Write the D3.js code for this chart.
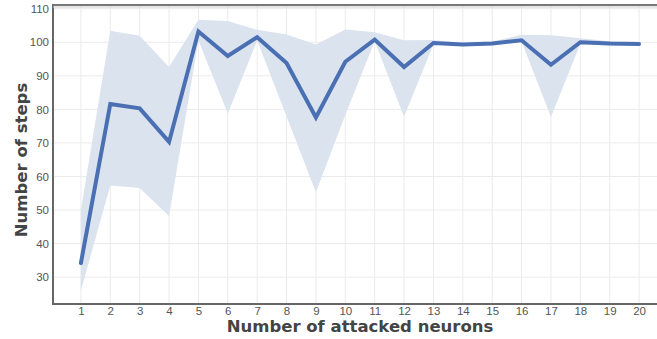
<!DOCTYPE html>
<html>
<head>
<meta charset="utf-8">
<script src="https://cdn.jsdelivr.net/npm/d3@7"></script>
<style>
  body { margin: 0; background: #fff; }
  svg { display: block; font-family: "DejaVu Sans", sans-serif; }
  .grid line { stroke: #ebebeb; stroke-width: 1; }
  .tick text { fill: #555; font-size: 11.5px; }
</style>
</head>
<body>
<svg width="657" height="339"></svg>
<script>
// data
var neurons = [1, 2, 3, 4, 5, 6, 7, 8, 9, 10, 11, 12, 13, 14, 15, 16, 17, 18, 19, 20];
var meanSteps = [34.2, 81.6, 80.3, 70.3, 103.2, 95.9, 101.5, 93.8, 77.6, 94.2,
                 100.8, 92.6, 99.8, 99.3, 99.6, 100.6, 93.3, 100.0, 99.6, 99.5];
var upperSteps = [50.0, 103.4, 101.9, 92.6, 106.7, 106.3, 103.7, 102.3, 99.3, 103.8,
                  103.0, 100.6, 100.7, 99.8, 100.2, 102.2, 102.1, 101.2, 100.3, 99.8];
var lowerSteps = [26.0, 57.3, 56.6, 48.2, 100.5, 78.8, 100.5, 77.9, 55.3, 78.3,
                  100.3, 77.8, 99.4, 98.8, 99.1, 100.2, 77.7, 99.5, 99.0, 99.2];
var yTicks = [30, 40, 50, 60, 70, 80, 90, 100, 110];

var svg = d3.select('svg');
// note: "top" clashes with window.top, so use plotTop etc.
var plotLeft = 53, plotRight = 657, plotTop = 5, plotBottom = 304;

var x = d3.scaleLinear().domain([0.05, 20.61]).range([plotLeft, plotRight]);
var y = d3.scaleLinear().domain([22, 111.1]).range([plotBottom, plotTop]);

var rows = neurons.map(function(n, i) {
  return { n: n, mean: meanSteps[i], hi: upperSteps[i], lo: lowerSteps[i] };
});

// grid
var grid = svg.append('g').attr('class', 'grid');
grid.selectAll('.v').data(neurons).enter().append('line')
  .attr('x1', d => x(d)).attr('x2', d => x(d))
  .attr('y1', plotTop).attr('y2', plotBottom);
grid.selectAll('.h').data(yTicks).enter().append('line')
  .attr('x1', plotLeft).attr('x2', plotRight)
  .attr('y1', d => y(d)).attr('y2', d => y(d));

// band
svg.append('path')
  .datum(rows)
  .attr('fill', '#dbe3ef')
  .attr('d', d3.area()
    .x(d => x(d.n))
    .y0(d => y(d.lo))
    .y1(d => y(d.hi)));

// mean line
svg.append('path')
  .datum(rows)
  .attr('fill', 'none')
  .attr('stroke', '#4a6fb3')
  .attr('stroke-width', 4)
  .attr('stroke-linejoin', 'miter')
  .attr('stroke-linecap', 'round')
  .attr('d', d3.line().x(d => x(d.n)).y(d => y(d.mean)));

// axes
var xAxis = svg.append('g')
  .attr('transform', 'translate(0,' + plotBottom + ')')
  .call(d3.axisBottom(x).tickValues(neurons).tickSize(0).tickPadding(3));
xAxis.select('.domain').remove();

var yAxis = svg.append('g')
  .attr('transform', 'translate(' + plotLeft + ',0)')
  .call(d3.axisLeft(y).tickValues(yTicks).tickSize(0).tickPadding(4));
yAxis.select('.domain').remove();

// frame: left, bottom and a doubled top rule
svg.append('line').attr('x1', plotLeft).attr('x2', plotLeft).attr('y1', plotTop - 1).attr('y2', plotBottom + 1)
  .attr('stroke', '#666').attr('stroke-width', 2);
svg.append('line').attr('x1', plotLeft).attr('x2', plotRight).attr('y1', plotBottom).attr('y2', plotBottom)
  .attr('stroke', '#666').attr('stroke-width', 2);
svg.append('line').attr('x1', plotLeft).attr('x2', plotRight).attr('y1', plotTop).attr('y2', plotTop)
  .attr('stroke', '#777').attr('stroke-width', 2);
svg.append('line').attr('x1', plotLeft).attr('x2', plotRight).attr('y1', plotTop + 2).attr('y2', plotTop + 2)
  .attr('stroke', '#ccc').attr('stroke-width', 1);

// titles
svg.append('text')
  .attr('x', 360).attr('y', 332)
  .attr('text-anchor', 'middle')
  .attr('font-size', 16.5).attr('font-weight', 'bold').attr('fill', '#444')
  .text('Number of attacked neurons');

svg.append('text')
  .attr('transform', 'translate(27,160) rotate(-90)')
  .attr('text-anchor', 'middle')
  .attr('font-size', 16.5).attr('font-weight', 'bold').attr('fill', '#444')
  .text('Number of steps');
</script>
</body>
</html>
